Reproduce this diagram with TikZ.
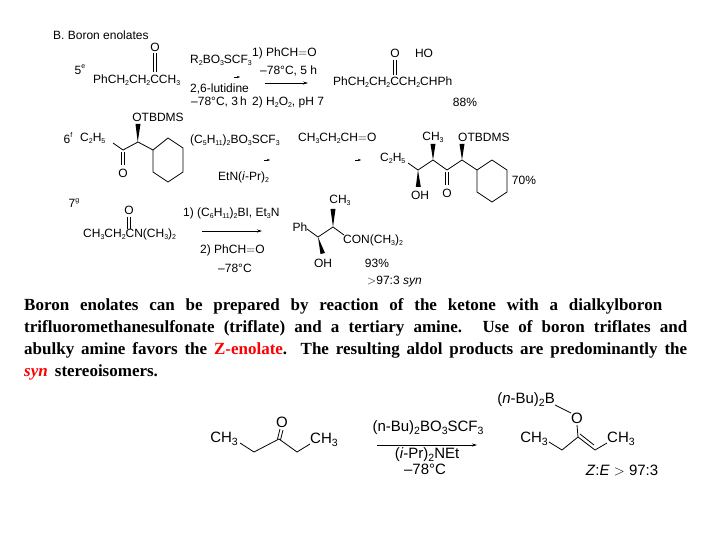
\documentclass[tikz,border=0pt]{standalone}
\usepackage{fontspec}
\setmainfont{Liberation Sans}
\newfontfamily\serifb{Liberation Serif}
\usetikzlibrary{arrows.meta}
\newcommand{\sbs}[1]{\raisebox{-0.35ex}{\scriptsize #1}}
\newcommand{\bsb}[1]{\raisebox{-0.35ex}{\fontsize{10.5}{11}\selectfont #1}}
\newcommand{\sps}[1]{\raisebox{0.9ex}{\scriptsize #1}}
\begin{document}
\begin{tikzpicture}[x=1pt,y=-1pt,
  lab/.style={inner sep=0pt,font=\fontsize{12}{14}\selectfont},
  big/.style={inner sep=0pt,font=\fontsize{15}{18}\selectfont},
  bnd/.style={line width=0.8pt},
  rx/.style={-{Stealth[length=5pt,width=3pt]},line width=0.7pt},
  tiny/.style={-{Stealth[length=3pt,width=2pt]},line width=0.3pt}]
\useasboundingbox (0,0) rectangle (720,540);
% Row 1
\node[lab,anchor=west] (title) at (53,35) {B. Boron enolates};
\node[lab] (n5) at (80,70) {5\sps{e}};
\node[lab] (o1) at (155,47) {O};
\node[lab,anchor=west] (k1) at (93,80) {PhCH\sbs{2}CH\sbs{2}CCH\sbs{3}};
\draw[bnd] (153.5,53) -- (153.5,72) (156.5,53) -- (156.5,72);
\node[lab,anchor=west] (r1a) at (190,60) {R\sbs{2}BO\sbs{3}SCF\sbs{3}};
\coordinate (t1a) at (234,77); \coordinate (t1b) at (240,77);
\draw[tiny] (t1a) -- (t1b);
\node[lab,anchor=west] (r1b) at (190,89) {2,6-lutidine};
\node[lab,anchor=west] (r1c) at (191,102) {–78\textdegree C, 3\,h};
\node[lab,anchor=west] (r1d) at (252,53) {1) PhCH$\mathbf{=}$O};
\node[lab,anchor=west] (r1e) at (260,71) {–78\textdegree C, 5 h};
\coordinate (a1s) at (265,83); \coordinate (a1e) at (308,83);
\draw[rx] (a1s) -- (a1e);
\node[lab,anchor=west] (r1f) at (252,102) {2) H\sbs{2}O\sbs{2}, pH 7};
\node[lab] (po1) at (395,53) {O};
\node[lab] (pho) at (424,53) {HO};
\draw[bnd] (393.5,60) -- (393.5,75) (396.5,60) -- (396.5,75);
\node[lab,anchor=west] (p1) at (333,82) {PhCH\sbs{2}CH\sbs{2}CCH\sbs{2}CHPh};
\node[lab] (y1) at (465,102) {88\%};
% Row 2
\node[lab] (otb1) at (158,117) {OTBDMS};
\node[lab] (n6) at (68,138) {6\sps{f}};
\node[lab,anchor=west] (et1) at (80,138) {C\sbs{2}H\sbs{5}};
\node[lab] (o2) at (123,173) {O};
\coordinate (c1) at (123,150); \coordinate (c2) at (138,142);
\draw[bnd] (113,143) -- (c1) -- (c2) -- (153,150);
\draw[bnd] (121.5,152) -- (121.5,165) (124.5,152) -- (124.5,165);
\fill (137.7,142) -- (135.5,124) -- (140.5,124) -- cycle;
\draw[bnd] (153,150) -- (168,138) -- (183,148) -- (183,172) -- (168,182) -- (153,172) -- cycle;
\node[lab,anchor=west] (r2a) at (190,140) {(C\sbs{5}H\sbs{11})\sbs{2}BO\sbs{3}SCF\sbs{3}};
\coordinate (t2a) at (264,160); \coordinate (t2b) at (270,160);
\draw[tiny] (t2a) -- (t2b);
\node[lab,anchor=west] (r2b) at (218,177) {EtN(\textit{i}-Pr)\sbs{2}};
\node[lab,anchor=west] (r2c) at (298,138) {CH\sbs{3}CH\sbs{2}CH$\mathbf{=}$O};
\coordinate (t3a) at (355,160); \coordinate (t3b) at (361,160);
\draw[tiny] (t3a) -- (t3b);
\node[lab,anchor=west] (et2) at (380,158) {C\sbs{2}H\sbs{5}};
\node[lab] (oh2) at (420,195) {OH};
\node[lab] (me2) at (433,137) {CH\sbs{3}};
\node[lab,anchor=west] (otb2) at (458,137) {OTBDMS};
\node[lab] (o3) at (447,193) {O};
\draw[bnd] (408,163) -- (418,170) -- (433,160) -- (447,170) -- (462,160) -- (477,170);
\fill (418,170) -- (415.8,187) -- (420.8,187) -- cycle;
\fill (433,160) -- (430.5,144) -- (435.5,144) -- cycle;
\fill (462,160) -- (459.5,144) -- (464.5,144) -- cycle;
\draw[bnd] (445.5,172) -- (445.5,185) (448.5,172) -- (448.5,185);
\draw[bnd] (477,170) -- (492,160) -- (507,170) -- (507,192) -- (492,202) -- (477,192) -- cycle;
\node[lab] (y2) at (524,180) {70\%};
% Row 3
\node[lab] (n7) at (74,203) {7\sps{g}};
\node[lab] (o4) at (129,210) {O};
\draw[bnd] (127.5,217) -- (127.5,229) (130.5,217) -- (130.5,229);
\node[lab,anchor=west] (k3) at (83,234) {CH\sbs{3}CH\sbs{2}CN(CH\sbs{3})\sbs{2}};
\node[lab,anchor=west] (r3a) at (183,213) {1) (C\sbs{6}H\sbs{11})\sbs{2}BI, Et\sbs{3}N};
\coordinate (a3s) at (202,231); \coordinate (a3e) at (262,231);
\draw[rx] (a3s) -- (a3e);
\node[lab,anchor=west] (r3b) at (200,250) {2) PhCH$\mathbf{=}$O};
\node[lab,anchor=west] (r3c) at (218,268) {–78\textdegree C};
\node[lab] (ph3) at (300,227) {Ph};
\node[lab] (oh3) at (323,263) {OH};
\node[lab] (me3) at (340,200) {CH\sbs{3}};
\node[lab,anchor=west] (con) at (343,240) {CON(CH\sbs{3})\sbs{2}};
\draw[bnd] (307,229) -- (318,237) -- (333,227) -- (344,235);
\fill (318,237) -- (320.5,254) -- (325,253) -- cycle;
\fill (333,227) -- (330.5,209) -- (335.5,209) -- cycle;
\node[lab] (y3) at (377,263) {93\%};
\node[lab,anchor=west] (syn) at (367,282) {$>$97:3 \textit{syn}};
% paragraph
\node[anchor=north west,inner sep=0pt,align=left,
  font=\serifb\bfseries\fontsize{17}{22}\selectfont] (para) at (24,298)
  {\makebox[638pt][s]{Boron enolates can be prepared by reaction of the ketone with a dialkylboron}\\
   \makebox[663pt][s]{trifluoromethanesulfonate (triflate) and a tertiary amine. Use of boron triflates and}\\
   \makebox[663pt][s]{abulky amine favors the \textcolor{red}{Z-enolate}. The resulting aldol products are predominantly the}\\
   \textcolor{red}{\textit{syn}}\, stereoisomers.};
% bottom scheme
\node[big,anchor=east] (bme1) at (238,439) {CH\bsb{3}};
\node[big] (bo1) at (282,422) {O};
\node[big,anchor=west] (bme2) at (310,440) {CH\bsb{3}};
\draw[bnd] (240,443) -- (254,452) -- (279,439) -- (297,452) -- (310,444);
\draw[bnd] (277.5,439) -- (280,429) (280.5,440) -- (283,430);
\node[big] (br1) at (428,428) {(n-Bu)\bsb{2}BO\bsb{3}SCF\bsb{3}};
\coordinate (bas) at (377,445); \coordinate (bae) at (477,445);
\draw[rx] (bas) -- (bae);
\node[big] (br2) at (427,455) {(\textit{i}-Pr)\bsb{2}NEt};
\node[big] (br3) at (425,469) {–78\textdegree C};
\node[big,anchor=east] (bbu) at (555,400) {(\textit{n}-Bu)\bsb{2}B};
\node[big] (bo2) at (577,418) {O};
\node[big,anchor=east] (bme3) at (548,439) {CH\bsb{3}};
\node[big,anchor=west] (bme4) at (607,439) {CH\bsb{3}};
\draw[bnd] (555,405) -- (571,413);
\draw[bnd] (577,425) -- (578,437) -- (562,450) -- (549,442);
\draw[bnd] (578,437) -- (595,450) -- (607,443);
\draw[bnd] (580,434) -- (594,445);
\node[big] (zr) at (622,470) {\textit{Z}:\textit{E} $>$ 97:3};
\end{tikzpicture}
\end{document}
